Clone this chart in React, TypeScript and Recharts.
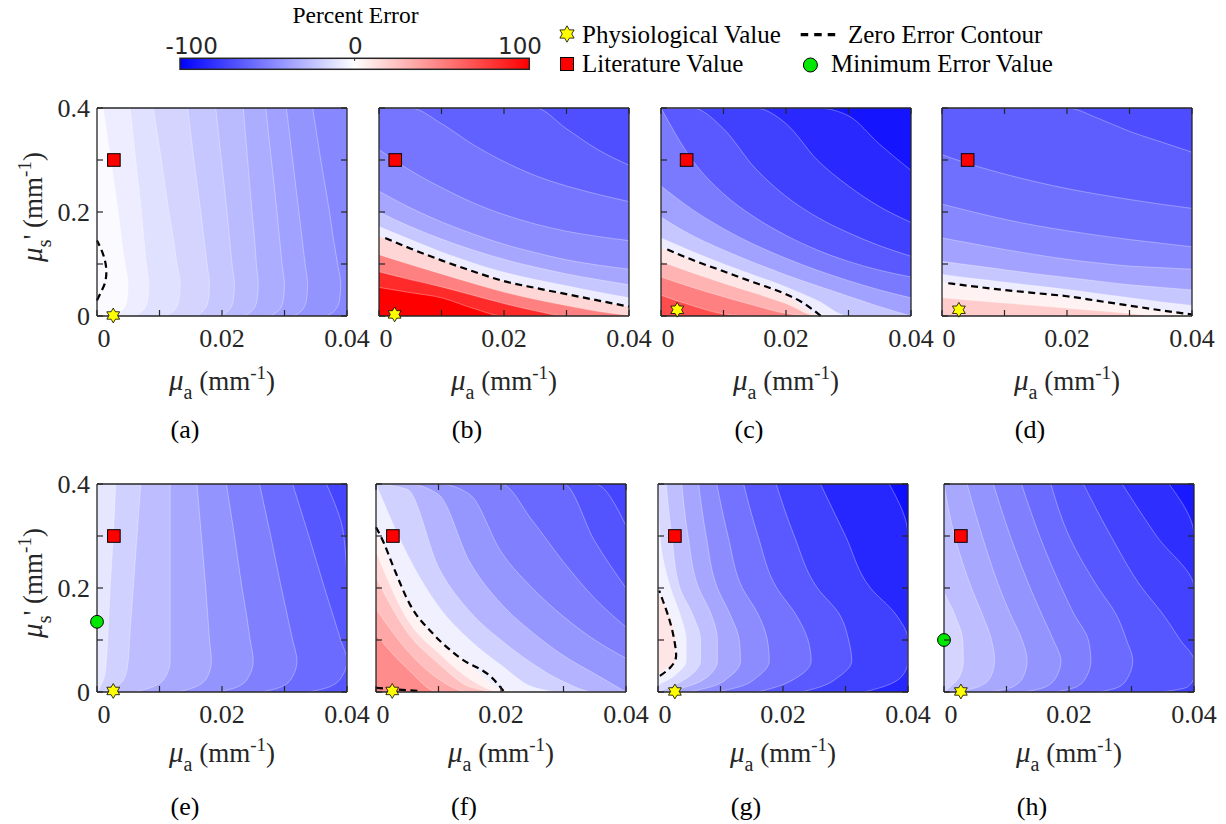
import React from 'react';
import { ComposedChart, Area, Line, Scatter, XAxis, YAxis, CartesianGrid } from 'recharts';

// sample positions along each contour line
const X_SAMPLES = [0, 0.005, 0.01, 0.015, 0.02, 0.025, 0.03, 0.035, 0.04];
const Y_SAMPLES = [0, 0.01, 0.03, 0.06, 0.1, 0.15, 0.2, 0.3, 0.4];

const X_TICKS = [0, 0.01, 0.02, 0.03, 0.04];
const X_LABELS = [0, 0.02, 0.04];
const Y_TICKS = [0, 0.1, 0.2, 0.3, 0.4];
const Y_LABELS = [0, 0.2, 0.4];
const CBAR_TICKS = [-100, 0, 100];

// ---- (a) contours are x(mu_s') ----
const aLevels = [-5, -10, -15, -20, -25, -30, -35, -40, -45];
const aBands = [-2, -7, -12, -17, -22, -27, -32, -37, -42, -47];
const aCurves = [
  [0.0025, 0.004, 0.0048, 0.005, 0.0045, 0.0039, 0.0034, 0.0022, 0.001],
  [0.006, 0.0073, 0.0081, 0.0083, 0.0079, 0.0075, 0.0071, 0.0062, 0.0053],
  [0.011, 0.0123, 0.0131, 0.0133, 0.0128, 0.0122, 0.0115, 0.0103, 0.009],
  [0.0158, 0.017, 0.0178, 0.018, 0.0176, 0.0171, 0.0166, 0.0155, 0.0145],
  [0.0198, 0.021, 0.0218, 0.022, 0.0216, 0.0212, 0.0208, 0.0199, 0.019],
  [0.0236, 0.0248, 0.0256, 0.0258, 0.0255, 0.0252, 0.0248, 0.0241, 0.0234],
  [0.0278, 0.029, 0.0298, 0.03, 0.0296, 0.0292, 0.0288, 0.0279, 0.027],
  [0.0315, 0.0327, 0.0335, 0.0337, 0.0333, 0.0328, 0.0323, 0.0313, 0.0303],
  [0.0368, 0.038, 0.0388, 0.039, 0.0385, 0.0378, 0.0372, 0.0358, 0.0345],
];
const aZero = [[
  { x: 0, y: 0.03 }, { x: 0.0006, y: 0.045 }, { x: 0.0013, y: 0.065 }, { x: 0.0015, y: 0.085 },
  { x: 0.0012, y: 0.11 }, { x: 0.0006, y: 0.13 }, { x: 0, y: 0.145 },
]];

// ---- (b) contours are y(mu_a) ----
const bLevels = [100, 66, 33, 0, -15, -30, -40, -50, -58, -66];
const bBands = [100, 83, 50, 16, -7, -22, -35, -45, -54, -62, -69];
const bCurves = [
  [0.055, 0.045, 0.035, 0.015, 0, 0, 0, 0, 0],
  [0.085, 0.07, 0.056, 0.04, 0.024, 0.01, 0, 0, 0],
  [0.118, 0.099, 0.081, 0.063, 0.046, 0.032, 0.02, 0.009, 0.001],
  [0.154, 0.13, 0.107, 0.086, 0.067, 0.054, 0.042, 0.03, 0.018],
  [0.172, 0.147, 0.123, 0.102, 0.084, 0.07, 0.058, 0.046, 0.035],
  [0.2, 0.172, 0.148, 0.127, 0.109, 0.094, 0.081, 0.07, 0.06],
  [0.24, 0.208, 0.181, 0.158, 0.138, 0.122, 0.108, 0.098, 0.09],
  [0.32, 0.28, 0.247, 0.218, 0.195, 0.177, 0.163, 0.153, 0.145],
  [0.4, 0.4, 0.37, 0.33, 0.297, 0.27, 0.25, 0.234, 0.22],
  [0.4, 0.4, 0.4, 0.4, 0.4, 0.4, 0.36, 0.32, 0.29],
];
const bZero = [[
  { x: 0.001, y: 0.15 }, { x: 0.005, y: 0.13 }, { x: 0.01, y: 0.107 }, { x: 0.015, y: 0.086 },
  { x: 0.02, y: 0.067 }, { x: 0.025, y: 0.054 }, { x: 0.03, y: 0.042 }, { x: 0.035, y: 0.03 }, { x: 0.04, y: 0.018 },
]];

// ---- (c) ----
const cLevels = [60, 40, 20, 0, -15, -30, -45, -60, -70, -80, -88];
const cBands = [70, 50, 30, 10, -7, -22, -37, -52, -65, -75, -84, -92];
const cCurves = [
  [0.04, 0.02, 0.004, 0, 0, 0, 0, 0, 0],
  [0.075, 0.055, 0.037, 0.02, 0.005, 0, 0, 0, 0],
  [0.105, 0.083, 0.063, 0.044, 0.024, 0, 0, 0, 0],
  [0.132, 0.108, 0.086, 0.064, 0.042, 0.004, 0, 0, 0],
  [0.15, 0.124, 0.1, 0.078, 0.056, 0.03, 0, 0, 0],
  [0.19, 0.155, 0.127, 0.102, 0.079, 0.058, 0.038, 0.018, 0],
  [0.25, 0.205, 0.168, 0.137, 0.111, 0.088, 0.068, 0.05, 0.035],
  [0.4, 0.3, 0.235, 0.19, 0.155, 0.127, 0.105, 0.088, 0.075],
  [0.4, 0.4, 0.36, 0.285, 0.23, 0.19, 0.16, 0.135, 0.115],
  [0.4, 0.4, 0.4, 0.4, 0.37, 0.3, 0.25, 0.21, 0.18],
  [0.4, 0.4, 0.4, 0.4, 0.4, 0.4, 0.385, 0.33, 0.28],
];
const cZero = [[
  { x: 0.001, y: 0.128 }, { x: 0.005, y: 0.108 }, { x: 0.01, y: 0.086 }, { x: 0.015, y: 0.064 },
  { x: 0.02, y: 0.042 }, { x: 0.0225, y: 0.027 }, { x: 0.0256, y: 0 },
]];

// ---- (d) ----
const dLevels = [10, 0, -15, -30, -42, -52, -60, -67];
const dBands = [20, 5, -7, -22, -36, -47, -56, -63, -70];
const dCurves = [
  [0.035, 0.03, 0.025, 0.02, 0.015, 0.01, 0.005, 0, 0],
  [0.064, 0.057, 0.05, 0.044, 0.038, 0.029, 0.02, 0.011, 0.003],
  [0.08, 0.072, 0.065, 0.058, 0.051, 0.043, 0.035, 0.027, 0.02],
  [0.105, 0.097, 0.089, 0.081, 0.074, 0.067, 0.06, 0.055, 0.05],
  [0.15, 0.139, 0.128, 0.118, 0.109, 0.102, 0.096, 0.093, 0.09],
  [0.215, 0.2, 0.186, 0.174, 0.164, 0.155, 0.147, 0.14, 0.133],
  [0.31, 0.29, 0.273, 0.258, 0.245, 0.234, 0.224, 0.215, 0.207],
  [0.4, 0.4, 0.4, 0.4, 0.4, 0.38, 0.355, 0.335, 0.315],
];
const dZero = [[
  { x: 0.001, y: 0.063 }, { x: 0.005, y: 0.057 }, { x: 0.01, y: 0.05 }, { x: 0.015, y: 0.044 },
  { x: 0.02, y: 0.038 }, { x: 0.025, y: 0.029 }, { x: 0.03, y: 0.02 }, { x: 0.035, y: 0.011 }, { x: 0.04, y: 0.003 },
]];

// ---- (e) ----
const eLevels = [-15, -22, -30, -38, -46, -54, -62, -70];
const eBands = [-10, -18, -26, -34, -42, -50, -58, -66, -73];
const eCurves = [
  [0, 0.0005, 0.0012, 0.0015, 0.0017, 0.0019, 0.0021, 0.0026, 0.003],
  [0.001, 0.003, 0.0045, 0.005, 0.0052, 0.0055, 0.0058, 0.0064, 0.007],
  [0.006, 0.009, 0.011, 0.0117, 0.0117, 0.0117, 0.0117, 0.0117, 0.0117],
  [0.013, 0.0158, 0.0177, 0.0183, 0.018, 0.0177, 0.0174, 0.0167, 0.016],
  [0.0195, 0.0225, 0.0243, 0.025, 0.0245, 0.0239, 0.0232, 0.022, 0.0207],
  [0.0265, 0.0295, 0.0313, 0.032, 0.0313, 0.0304, 0.0295, 0.0278, 0.026],
  [0.034, 0.0372, 0.0392, 0.04, 0.039, 0.0377, 0.0364, 0.0339, 0.0313],
  [0.04, 0.04, 0.04, 0.04, 0.04, 0.04, 0.04, 0.0395, 0.0367],
];
const eZero: { x: number; y: number }[][] = [];

// ---- (f) ----
const fLevels = [40, 30, 20, 10, 0, -12, -24, -36, -46, -55, -63, -70];
const fBands = [45, 35, 25, 15, 5, -6, -18, -30, -41, -50, -59, -67, -73];
const fCurves = [
  [0.11, 0.045, 0, 0, 0, 0, 0, 0, 0],
  [0.16, 0.08, 0.025, 0, 0, 0, 0, 0, 0],
  [0.22, 0.115, 0.055, 0.01, 0, 0, 0, 0, 0],
  [0.27, 0.14, 0.075, 0.025, 0, 0, 0, 0, 0],
  [0.317, 0.178, 0.102, 0.053, 0.006, 0, 0, 0, 0],
  [0.4, 0.265, 0.165, 0.1, 0.052, 0.01, 0, 0, 0],
  [0.4, 0.39, 0.24, 0.155, 0.1, 0.055, 0.02, 0, 0],
  [0.4, 0.4, 0.38, 0.25, 0.17, 0.115, 0.07, 0.035, 0],
  [0.4, 0.4, 0.4, 0.38, 0.27, 0.2, 0.145, 0.1, 0.065],
  [0.4, 0.4, 0.4, 0.4, 0.4, 0.33, 0.25, 0.18, 0.125],
  [0.4, 0.4, 0.4, 0.4, 0.4, 0.4, 0.4, 0.29, 0.2],
  [0.4, 0.4, 0.4, 0.4, 0.4, 0.4, 0.4, 0.4, 0.32],
];
const fZero = [
  [
    { x: 0, y: 0.317 }, { x: 0.0012, y: 0.288 }, { x: 0.0028, y: 0.24 }, { x: 0.0054, y: 0.169 },
    { x: 0.0092, y: 0.111 }, { x: 0.0134, y: 0.066 }, { x: 0.0188, y: 0.0245 }, { x: 0.0204, y: 0.002 },
  ],
  [{ x: 0, y: 0.008 }, { x: 0.003, y: 0.005 }, { x: 0.007, y: 0.002 }],
];

// ---- (g) ----
const gLevels = [0, -10, -20, -30, -40, -50, -60, -70, -80, -90];
const gBands = [10, -5, -15, -25, -35, -45, -55, -65, -75, -85, -94];
const gCurves = [
  [0, 0, 0, 0.0028, 0.0028, 0.0018, 0, 0, 0],
  [0, 0, 0.0025, 0.0045, 0.0045, 0.0035, 0.002, 0.0003, 0],
  [0, 0.002, 0.005, 0.0068, 0.0068, 0.0055, 0.0035, 0.0022, 0.0013],
  [0.001, 0.0045, 0.008, 0.0095, 0.0095, 0.0085, 0.0065, 0.0048, 0.0038],
  [0.005, 0.0085, 0.0115, 0.0132, 0.013, 0.0115, 0.0095, 0.0077, 0.0065],
  [0.0095, 0.013, 0.016, 0.0178, 0.0175, 0.016, 0.0135, 0.0112, 0.0094],
  [0.016, 0.019, 0.0225, 0.0245, 0.024, 0.022, 0.019, 0.016, 0.0137],
  [0.023, 0.026, 0.029, 0.031, 0.0305, 0.029, 0.0255, 0.0218, 0.0189],
  [0.033, 0.036, 0.039, 0.04, 0.04, 0.038, 0.034, 0.03, 0.026],
  [0.04, 0.04, 0.04, 0.04, 0.04, 0.04, 0.04, 0.04, 0.037],
];
const gZero = [[
  { x: 0.0003, y: 0.031 }, { x: 0.0018, y: 0.045 }, { x: 0.0029, y: 0.07 }, { x: 0.0026, y: 0.1 },
  { x: 0.0018, y: 0.14 }, { x: 0.0008, y: 0.175 }, { x: 0.0002, y: 0.195 },
]];

// ---- (h) ----
const hLevels = [-22, -30, -38, -46, -54, -62, -70, -78, -86];
const hBands = [-17, -26, -34, -42, -50, -58, -66, -74, -82, -90];
const hCurves = [
  [0, 0.001, 0.0025, 0.0031, 0.003, 0.0017, 0, 0, 0],
  [0.002, 0.0055, 0.0075, 0.0081, 0.0076, 0.0061, 0.0044, 0.0017, 0],
  [0.0075, 0.011, 0.0127, 0.0133, 0.0125, 0.0106, 0.0089, 0.0061, 0.0037],
  [0.013, 0.0163, 0.018, 0.0187, 0.0175, 0.0156, 0.0138, 0.0106, 0.0079],
  [0.018, 0.0212, 0.0228, 0.0235, 0.0231, 0.0208, 0.0188, 0.0153, 0.0124],
  [0.025, 0.028, 0.0295, 0.0302, 0.0292, 0.0275, 0.0247, 0.02, 0.0171],
  [0.035, 0.039, 0.04, 0.04, 0.0378, 0.035, 0.0317, 0.0267, 0.0223],
  [0.04, 0.04, 0.04, 0.04, 0.04, 0.04, 0.04, 0.034, 0.0285],
  [0.04, 0.04, 0.04, 0.04, 0.04, 0.04, 0.04, 0.04, 0.036],
];
const hZero: { x: number; y: number }[][] = [];

// markers
const physiological = [
  { panel: 'a', x: 0.0026, y: 0.001 }, { panel: 'b', x: 0.0025, y: 0.003 },
  { panel: 'c', x: 0.0026, y: 0.012 }, { panel: 'd', x: 0.0027, y: 0.012 },
  { panel: 'e', x: 0.0026, y: 0.002 }, { panel: 'f', x: 0.0026, y: 0.002 },
  { panel: 'g', x: 0.0027, y: 0.001 }, { panel: 'h', x: 0.0027, y: 0.001 },
];
const literature = [
  { panel: 'a', x: 0.0027, y: 0.3 }, { panel: 'b', x: 0.0026, y: 0.3 },
  { panel: 'c', x: 0.0041, y: 0.3 }, { panel: 'd', x: 0.0041, y: 0.3 },
  { panel: 'e', x: 0.0027, y: 0.3 }, { panel: 'f', x: 0.0027, y: 0.3 },
  { panel: 'g', x: 0.0027, y: 0.3 }, { panel: 'h', x: 0.0027, y: 0.3 },
];
const minimumError = [
  { panel: 'e', x: 0, y: 0.135 },
  { panel: 'h', x: 0, y: 0.1 },
];

const PANELS = [
  { id: 'a', layout: 'vertical', left: 97, top: 108, levels: aLevels, bands: aBands, curves: aCurves, zero: aZero },
  { id: 'b', layout: 'horizontal', left: 379, top: 108, levels: bLevels, bands: bBands, curves: bCurves, zero: bZero },
  { id: 'c', layout: 'horizontal', left: 661, top: 108, levels: cLevels, bands: cBands, curves: cCurves, zero: cZero },
  { id: 'd', layout: 'horizontal', left: 942, top: 108, levels: dLevels, bands: dBands, curves: dCurves, zero: dZero },
  { id: 'e', layout: 'vertical', left: 97, top: 484, levels: eLevels, bands: eBands, curves: eCurves, zero: eZero },
  { id: 'f', layout: 'horizontal', left: 376, top: 484, levels: fLevels, bands: fBands, curves: fCurves, zero: fZero },
  { id: 'g', layout: 'vertical', left: 658, top: 484, levels: gLevels, bands: gBands, curves: gCurves, zero: gZero },
  { id: 'h', layout: 'vertical', left: 944, top: 484, levels: hLevels, bands: hBands, curves: hCurves, zero: hZero },
];

const W = 250;
const H = 208;
const ML = 85;
const MR = 25;
const MT = 12;
const MB = 45;
const SERIF = '"Liberation Serif", "Times New Roman", serif';
const AX = '#262626';

const errColor = (e: number) => {
  const t = Math.max(-100, Math.min(100, e)) / 100;
  const v = Math.round(255 * (1 - Math.abs(t)));
  return t < 0 ? `rgb(${v},${v},255)` : `rgb(255,${v},${v})`;
};

const starPoints = (cx: number, cy: number, r: number) => {
  const pts: string[] = [];
  for (let i = 0; i < 12; i++) {
    const a = -Math.PI / 2 + (i * Math.PI) / 6;
    const rr = i % 2 === 0 ? r : r * 0.58;
    pts.push(`${cx + rr * Math.cos(a)},${cy + rr * Math.sin(a)}`);
  }
  return pts.join(' ');
};

const StarShape = (p: any) => (
  <polygon points={starPoints(p.cx, p.cy, 7.4)} fill="#ffff00" stroke="#000" strokeWidth={0.8} />
);
const SquareShape = (p: any) => (
  <rect x={p.cx - 6.3} y={p.cy - 6.3} width={12.6} height={12.6} fill="#ff0000" stroke="#000" strokeWidth={1} />
);
const CircleShape = (p: any) => <circle cx={p.cx} cy={p.cy} r={6.4} fill="#00e800" stroke="#000" strokeWidth={1} />;

const bottomTick = (p: any) => {
  const v = p.payload.value;
  return (
    <g>
      <line x1={p.x} x2={p.x} y1={p.y} y2={p.y - 6} stroke={AX} strokeWidth={1.2} />
      {X_LABELS.includes(v) && (
        <text x={p.x + (v === 0 ? 7 : 0)} y={p.y + 31} textAnchor="middle" fontSize={26} fontFamily={SERIF} fill={AX}>
          {String(v)}
        </text>
      )}
    </g>
  );
};
const topTick = (p: any) => <line x1={p.x} x2={p.x} y1={p.y} y2={p.y + 6} stroke={AX} strokeWidth={1.2} />;
const rightTick = (p: any) => <line x1={p.x} x2={p.x - 6} y1={p.y} y2={p.y} stroke={AX} strokeWidth={1.2} />;
const makeLeftTick = (showLabels: boolean) => (p: any) => {
  const v = p.payload.value;
  return (
    <g>
      <line x1={p.x} x2={p.x + 6} y1={p.y} y2={p.y} stroke={AX} strokeWidth={1.2} />
      {showLabels && Y_LABELS.includes(v) && (
        <text x={p.x - 7} y={p.y + 9} textAnchor="end" fontSize={26} fontFamily={SERIF} fill={AX}>
          {String(v)}
        </text>
      )}
    </g>
  );
};

function Panel({ spec }: { spec: any }) {
  const horiz = spec.layout === 'horizontal';
  const samples = horiz ? X_SAMPLES : Y_SAMPLES;
  const rows = samples.map((s, i) => {
    const r: any = horiz ? { x: s } : { y: s };
    spec.curves.forEach((c: number[], k: number) => {
      r[`c${k}`] = c[i];
    });
    return r;
  });
  const showY = spec.id === 'a' || spec.id === 'e';
  const axisLine = { stroke: AX, strokeWidth: 1.3 };
  const lit = literature.filter((m) => m.panel === spec.id);
  const mins = minimumError.filter((m) => m.panel === spec.id);
  const phys = physiological.filter((m) => m.panel === spec.id);
  return (
    <div style={{ position: 'absolute', left: spec.left - ML - 1, top: spec.top - MT - 1 }}>
      <ComposedChart
        width={ML + W + MR + 2}
        height={MT + H + MB + 2}
        data={rows}
        layout={spec.layout}
        margin={{ top: MT, right: MR, bottom: MB, left: ML }}
      >
        <CartesianGrid horizontal={false} vertical={false} fill={errColor(spec.bands[0])} fillOpacity={1} stroke="none" />
        {spec.levels.map((lv: number, k: number) => (
          <Area
            key={`lv${lv}`}
            dataKey={`c${k}`}
            type="monotone"
            baseValue="dataMax"
            fill={errColor(spec.bands[k + 1])}
            fillOpacity={1}
            stroke="#ffffff"
            strokeOpacity={0.55}
            strokeWidth={0.6}
            dot={false}
            activeDot={false}
            isAnimationActive={false}
          />
        ))}
        {spec.zero.map((seg: any[], j: number) => (
          <Line
            key={`z${j}`}
            data={seg}
            dataKey={horiz ? 'y' : 'x'}
            type="monotone"
            stroke="#000"
            strokeWidth={2.2}
            strokeDasharray="7 4.5"
            dot={false}
            activeDot={false}
            isAnimationActive={false}
          />
        ))}
        <XAxis
          dataKey="x"
          type="number"
          domain={[0, 0.04]}
          ticks={X_TICKS}
          interval={0}
          height={1}
          tickSize={0}
          tickMargin={0}
          tickLine={false}
          axisLine={axisLine}
          tick={bottomTick}
        />
        <XAxis
          xAxisId="top"
          orientation="top"
          dataKey="x"
          type="number"
          domain={[0, 0.04]}
          ticks={X_TICKS}
          interval={0}
          height={1}
          tickSize={0}
          tickMargin={0}
          tickLine={false}
          axisLine={axisLine}
          tick={topTick}
        />
        <YAxis
          dataKey="y"
          type="number"
          domain={[0, 0.4]}
          ticks={Y_TICKS}
          interval={0}
          width={1}
          reversed={!horiz}
          tickSize={0}
          tickMargin={0}
          tickLine={false}
          axisLine={axisLine}
          tick={makeLeftTick(showY)}
        />
        <YAxis
          yAxisId="right"
          orientation="right"
          dataKey="y"
          type="number"
          domain={[0, 0.4]}
          ticks={Y_TICKS}
          interval={0}
          width={1}
          reversed={!horiz}
          tickSize={0}
          tickMargin={0}
          tickLine={false}
          axisLine={axisLine}
          tick={rightTick}
        />
        {lit.length > 0 && <Scatter data={lit} shape={SquareShape} isAnimationActive={false} />}
        {mins.length > 0 && <Scatter data={mins} shape={CircleShape} isAnimationActive={false} />}
        {phys.length > 0 && <Scatter data={phys} shape={StarShape} isAnimationActive={false} />}
      </ComposedChart>
    </div>
  );
}

const MuA = ({ x, y }: { x: number; y: number }) => (
  <text x={x} y={y} textAnchor="middle" fontSize={27} fontFamily={SERIF} fill={AX}>
    <tspan fontStyle="italic" fontSize={29}>μ</tspan>
    <tspan dy={9} fontSize={20}>a</tspan>
    <tspan dy={-9}> (mm</tspan>
    <tspan dy={-11} fontSize={19}>-1</tspan>
    <tspan dy={11}>)</tspan>
  </text>
);

const MuS = ({ x, y }: { x: number; y: number }) => (
  <text x={x} y={y} textAnchor="middle" fontSize={27} fontFamily={SERIF} fill={AX} transform={`rotate(-90 ${x} ${y})`}>
    <tspan fontStyle="italic" fontSize={29}>μ</tspan>
    <tspan dy={9} fontSize={20}>s</tspan>
    <tspan dy={-9}>' (mm</tspan>
    <tspan dy={-11} fontSize={19}>-1</tspan>
    <tspan dy={11}>)</tspan>
  </text>
);

function Overlay() {
  const cbX = 180;
  const cbW = 349.3;
  const cbPos = (v: number) => cbX + ((v + 100) / 200) * cbW;
  const cbShift = (v: number) => (v < 0 ? 11.7 : v > 0 ? -9.3 : 0.7);
  return (
    <svg width={1226} height={824} style={{ position: 'absolute', left: 0, top: 0, pointerEvents: 'none' }}>
      <defs>
        <linearGradient id="cbarGrad" x1="0" x2="1" y1="0" y2="0">
          <stop offset="0" stopColor="#0000ff" />
          <stop offset="0.5" stopColor="#ffffff" />
          <stop offset="1" stopColor="#ff0000" />
        </linearGradient>
      </defs>
      <text x={355.5} y={23.3} textAnchor="middle" fontSize={23.5} fontFamily={SERIF} fill="#000">
        Percent Error
      </text>
      <rect x={cbX} y={58.3} width={cbW} height={11} fill="url(#cbarGrad)" stroke={AX} strokeWidth={1.5} />
      <line x1={cbPos(0)} x2={cbPos(0)} y1={58.3} y2={61} stroke={AX} strokeWidth={1} />
      {CBAR_TICKS.map((v) => (
        <text key={v} x={cbPos(v) + cbShift(v)} y={54.3} textAnchor="middle" fontSize={23} fontFamily='"DejaVu Sans", sans-serif' fill={AX}>
          {String(v)}
        </text>
      ))}

      {/* legend */}
      <polygon points={starPoints(567, 34, 8.2)} fill="#ffff00" stroke="#000" strokeWidth={0.8} />
      <text x={582} y={42.6} fontSize={25} fontFamily={SERIF} fill="#000">Physiological Value</text>
      <rect x={560.5} y={57.5} width={13} height={13} fill="#ff0000" stroke="#000" strokeWidth={1} />
      <text x={582} y={72} fontSize={25} fontFamily={SERIF} fill="#000">Literature Value</text>
      <line x1={800.7} x2={836.4} y1={34.6} y2={34.6} stroke="#000" strokeWidth={3.2} strokeDasharray="7.5 6" />
      <text x={848} y={42.6} fontSize={25} fontFamily={SERIF} fill="#000">Zero Error Contour</text>
      <circle cx={810.4} cy={65} r={7} fill="#00e800" stroke="#000" strokeWidth={1} />
      <text x={831} y={72} fontSize={25} fontFamily={SERIF} fill="#000">Minimum Error Value</text>

      {/* axis labels and panel letters */}
      {PANELS.map((p) => {
        const top = p.top < 300;
        const cx = p.left + W / 2;
        return (
          <g key={p.id}>
            <MuA x={cx} y={top ? 390 : 762} />
            <text x={cx - 37} y={top ? 438 : 815} textAnchor="middle" fontSize={26} fontFamily={SERIF} fill="#000">
              ({p.id})
            </text>
          </g>
        );
      })}
      <MuS x={42} y={207} />
      <MuS x={42} y={583} />
    </svg>
  );
}

export default function App() {
  return (
    <div style={{ position: 'absolute', left: 0, top: 0, width: 1226, height: 824, background: '#fff' }}>
      {PANELS.map((p) => (
        <Panel key={p.id} spec={p} />
      ))}
      <Overlay />
    </div>
  );
}
